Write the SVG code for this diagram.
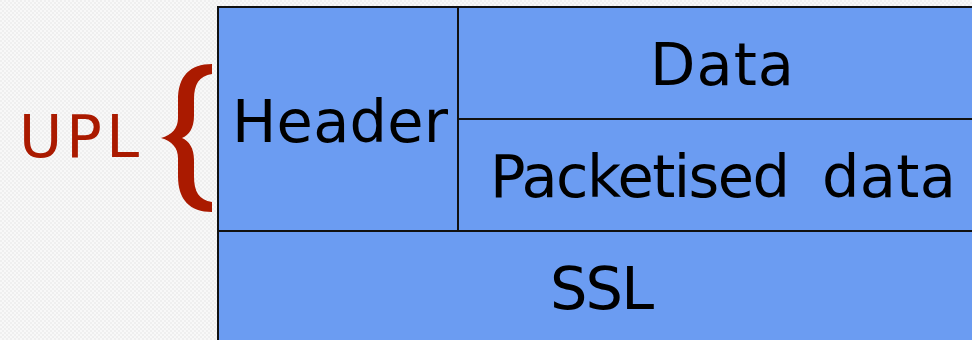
<svg xmlns="http://www.w3.org/2000/svg" width="972" height="340" viewBox="0 0 972 340">
  <defs>
    <pattern id="chk" width="4" height="4" patternUnits="userSpaceOnUse">
      <rect width="4" height="4" fill="#f8f8f8"/>
      <rect width="2" height="2" fill="#efefef"/>
      <rect x="2" y="2" width="2" height="2" fill="#efefef"/>
    </pattern>
  </defs>
  <style>
    .cell { fill: #6b9cf2; stroke: #111; stroke-width: 2; }
    .lbl { font-family: "DejaVu Sans", "Liberation Sans", sans-serif; font-size: 59px; fill: #000; }
    .red { fill: #aa1a00; }
  </style>
  <rect width="972" height="340" fill="url(#chk)"/>
  <g id="header">
    <rect class="cell" x="218" y="7" width="240" height="224"/>
    <text class="lbl" x="232" y="142" textLength="216" lengthAdjust="spacing">Header</text>
  </g>
  <g id="data">
    <rect class="cell" x="458" y="7" width="520" height="112"/>
    <text class="lbl" x="650" y="85" textLength="144" lengthAdjust="spacing">Data</text>
  </g>
  <g id="packetised">
    <rect class="cell" x="458" y="119" width="520" height="112"/>
    <text class="lbl" y="197"><tspan x="490" textLength="300" lengthAdjust="spacing">Packetised</tspan><tspan x="822" textLength="134" lengthAdjust="spacing">data</tspan></text>
  </g>
  <g id="ssl">
    <rect class="cell" x="218" y="231" width="760" height="120"/>
    <text class="lbl" x="550" y="309" textLength="104" lengthAdjust="spacing">SSL</text>
  </g>
  <g id="upl">
    <text class="lbl red" x="19" y="157" textLength="120" lengthAdjust="spacing">UPL</text>
    <path class="red" d="M 212 64 C 190 64 178 76 178 100 L 178 118 C 178 128 172 135 161 138 C 172 141 178 148 178 158 L 178 176 C 178 200 190 212 212 212 L 212 202 C 199 200 194 192 194 176 L 194 160 C 194 148 189 141 182 138 C 189 135 194 128 194 116 L 194 100 C 194 84 199 76 212 74 Z"/>
  </g>
</svg>
